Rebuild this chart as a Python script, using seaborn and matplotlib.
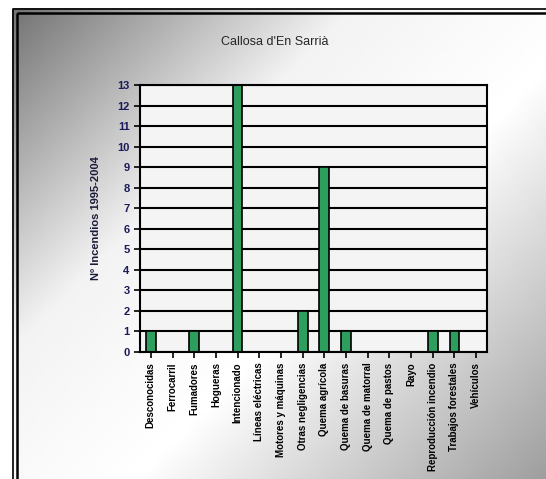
import numpy as np
import pandas as pd
import seaborn as sns
from matplotlib import pyplot as plt
from matplotlib.patches import Rectangle

causas = ['Desconocidas', 'Ferrocarril', 'Fumadores', 'Hogueras', 'Intencionado',
          'Líneas eléctricas', 'Motores y máquinas', 'Otras negligencias',
          'Quema agrícola', 'Quema de basuras', 'Quema de matorral', 'Quema de pastos',
          'Rayo', 'Reproducción incendio', 'Trabajos forestales', 'Vehículos']
incendios = [1, 0, 1, 0, 13, 0, 0, 2, 9, 1, 0, 0, 0, 1, 1, 0]

df = pd.DataFrame({'causa': causas, 'n': incendios})

sns.set_style('white')
plt.rcParams['font.family'] = ['Liberation Sans Narrow', 'Liberation Sans', 'DejaVu Sans']

W, H = 546, 479
fig = plt.figure(figsize=(W / 100, H / 100), dpi=100)

# fondo degradado, en coordenadas de pixel (y hacia abajo)
bg = fig.add_axes([0, 0, 1, 1], zorder=-10)
gx = np.linspace(0, W, 120)
gy = np.linspace(0, H, 120)
px, py = np.meshgrid(gx, gy)
t = (px + py) / (W + H)
val = np.interp(t, [0, 0.35, 0.6, 1], [0.42, 0.95, 1.0, 0.62])
bg.pcolormesh(px, py, val, cmap='gray', vmin=0, vmax=1, shading='gouraud')
bg.set_xlim(0, W)
bg.set_ylim(H, 0)
bg.add_patch(Rectangle((0, 0), 12, H, color='white', lw=0))
bg.add_patch(Rectangle((0, 0), W, 8, color='white', lw=0))
bg.add_patch(Rectangle((12.5, 9), W, H, fill=False, edgecolor='black', lw=1.2))
bg.add_patch(Rectangle((16.5, 13), W, H, fill=False, edgecolor='black', lw=1.8))
bg.set_axis_off()

ax = fig.add_axes([140 / W, 1 - 352 / H, 347 / W, 267 / H])
ax.set_facecolor('#f4f4f4')
sns.barplot(data=df, x='causa', y='n', color='#2e9e5e', edgecolor='black',
            linewidth=1.2, width=0.45, saturation=1, ax=ax)
ax.set_ylim(0, 13)
ax.set_yticks(range(0, 14))
ax.yaxis.grid(True, color='black', lw=1.5)
ax.set_axisbelow(True)
for s in ax.spines.values():
    s.set_color('black')
    s.set_linewidth(1.5)
ax.tick_params(axis='y', length=4, width=1.2, colors='black', labelcolor='#1a1a5a',
               labelsize=8, direction='out', left=True)
ax.tick_params(axis='x', length=4, width=1.2, colors='black', labelsize=7,
               direction='out', bottom=True, labelrotation=90)
for lab in ax.get_yticklabels() + ax.get_xticklabels():
    lab.set_fontweight('bold')
ax.set_xlabel('')
ax.set_ylabel('Nº Incendios 1995-2004', fontsize=8, fontweight='bold', color='#1a1a3a', labelpad=12)
fig.text(275 / W, 1 - 42 / H, "Callosa d'En Sarrià", fontsize=9, ha='center', va='center')

fig.savefig('out.png', dpi=100)
